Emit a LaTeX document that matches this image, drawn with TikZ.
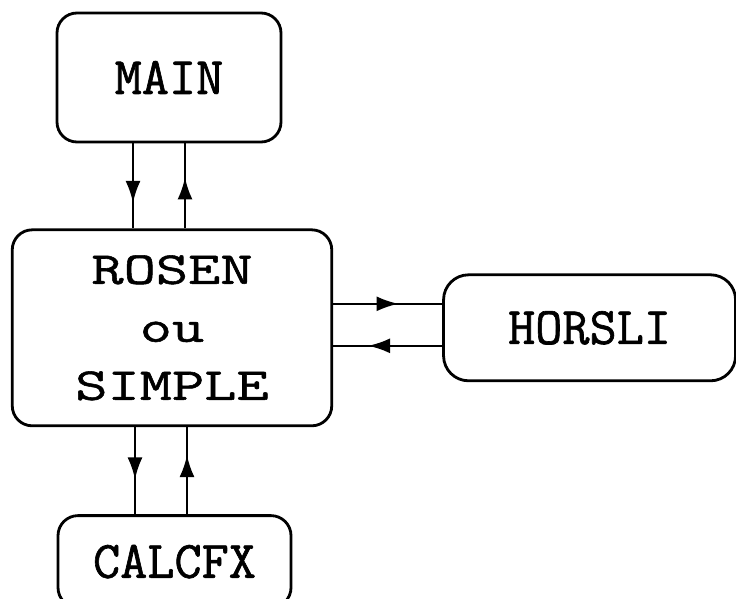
\documentclass[tikz,border=0pt]{standalone}
\usepackage{fontspec}
\usetikzlibrary{positioning,arrows.meta,decorations.markings}

\newfontfamily\progfont[FakeBold=1.2]{Latin Modern Mono}
\newfontfamily\widefont[FakeStretch=1.37,FakeBold=1.2]{Latin Modern Mono}

\tikzset{
  prog/.style={draw,line width=1.6pt,rectangle,rounded corners=0.4cm,
    font=\fontsize{30}{36}\selectfont\progfont},
  call/.style={line width=1.4pt,postaction={decorate},
    decoration={markings,
      mark=at position #1 with {\arrow{Latex[length=4.4mm,width=3mm]}}}},
  call/.default=0.6,
}

\begin{document}
\begin{tikzpicture}

\useasboundingbox (0,0) rectangle (14.72,-11.98);

\node[prog,minimum width=4.48cm,minimum height=2.58cm] (main) at (3.38,-1.55) {MAIN};
\node[prog,minimum width=6.39cm,minimum height=3.92cm,align=center,
      font=\widefont\fontsize{26}{33}\selectfont,
      below=1.7cm of main,xshift=0.06cm] (rosen) {ROSEN\\ou\\SIMPLE};
\node[prog,minimum width=5.84cm,minimum height=2.12cm,rounded corners=0.5cm,
      right=2.18cm of rosen] (horsli) {HORSLI};
\node[prog,minimum width=4.66cm,minimum height=1.84cm,
      below=1.74cm of rosen,xshift=0.05cm] (calcfx) {CALCFX};

% main <-> rosen
\draw[call=0.7] ([xshift=-0.72cm]main.south) -- ([xshift=-0.72cm]main.south |- rosen.north);
\draw[call=0.6] ([xshift=0.32cm]main.south |- rosen.north) -- ([xshift=0.32cm]main.south);

% rosen <-> horsli
\draw[call=0.6] ([yshift=0.48cm]horsli.west -| rosen.east) -- ([yshift=0.48cm]horsli.west);
\draw[call=0.68] ([yshift=-0.36cm]horsli.west) -- ([yshift=-0.36cm]horsli.west -| rosen.east);

% rosen <-> calcfx
\draw[call=0.6] ([xshift=-0.74cm]rosen.south) -- ([xshift=-0.74cm]rosen.south |- calcfx.north);
\draw[call=0.68] ([xshift=0.3cm]rosen.south |- calcfx.north) -- ([xshift=0.3cm]rosen.south);

\end{tikzpicture}
\end{document}
